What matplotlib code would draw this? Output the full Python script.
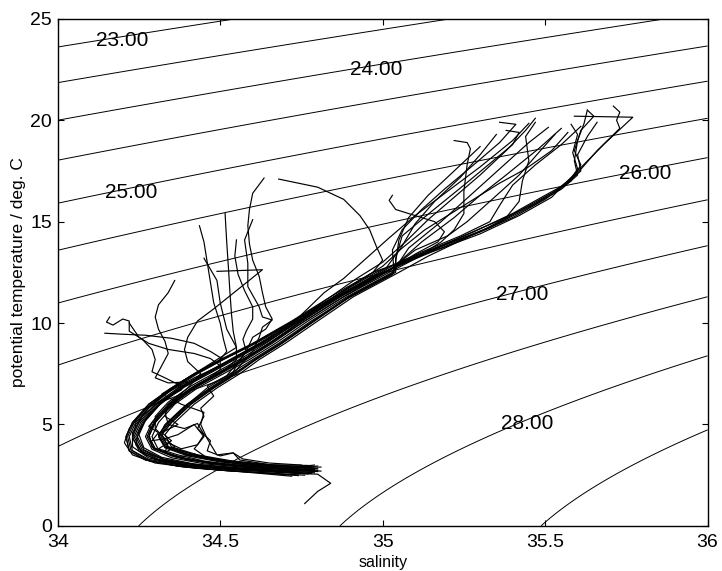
import numpy as np
import matplotlib
matplotlib.use("Agg")
import matplotlib.pyplot as plt

# -----------------------------
# Data: density levels and T-S casts (salinity, potential temperature)
# -----------------------------
sigma_levels = [22.5, 23.0, 23.5, 24.0, 24.5, 25.0, 25.5, 26.0, 26.5, 27.0, 27.5, 28.0, 28.5]
label_levels = [23.0, 24.0, 25.0, 26.0, 27.0, 28.0]

x_ticks = [34, 34.5, 35, 35.5, 36]
x_tick_labels = ["34", "34.5", "35", "35.5", "36"]
y_ticks = [0, 5, 10, 15, 20, 25]

# warm, salty surface casts
cast_a1 = [(35.63, 20.5), (35.62, 19.85), (35.6, 19.0), (35.59, 18.0), (35.6, 17.3), (35.55, 16.6), (35.45, 15.7),
           (35.33, 14.7), (35.18, 13.7), (34.97, 12.5), (34.84, 11.3), (34.72, 10.1), (34.6, 9.0), (34.5, 8.2),
           (34.42, 7.5), (34.35, 6.8), (34.28, 6.0), (34.23, 5.1), (34.21, 4.4), (34.22, 3.7), (34.27, 3.25),
           (34.37, 2.95), (34.5, 2.75), (34.65, 2.6), (34.76, 2.5)]
cast_a2 = [(35.59, 20.2), (35.77, 20.15), (35.68, 18.8), (35.6, 17.5), (35.55, 16.7), (35.52, 16.2), (35.42, 15.3),
           (35.3, 14.4), (35.15, 13.5), (35.0, 12.5), (34.86, 11.3), (34.74, 10.1), (34.63, 9.0), (34.54, 8.2),
           (34.46, 7.5), (34.38, 6.8), (34.31, 6.0), (34.26, 5.1), (34.24, 4.4), (34.26, 3.75), (34.32, 3.3),
           (34.42, 3.0), (34.55, 2.82), (34.7, 2.7), (34.79, 2.62)]
cast_a3 = [(35.63, 20.5), (35.65, 20.2), (35.61, 19.5), (35.59, 18.5), (35.61, 17.8), (35.58, 17.0), (35.5, 16.3),
           (35.4, 15.4), (35.28, 14.5), (35.14, 13.5), (35.02, 12.5), (34.88, 11.3), (34.76, 10.1), (34.66, 9.0),
           (34.58, 8.2), (34.5, 7.5), (34.42, 6.8), (34.35, 6.0), (34.3, 5.1), (34.28, 4.4), (34.3, 3.8),
           (34.37, 3.4), (34.47, 3.1), (34.6, 2.92), (34.72, 2.8), (34.8, 2.75)]
cast_a4 = [(35.71, 20.7), (35.73, 20.4), (35.72, 20.0), (35.73, 19.6), (35.66, 18.5), (35.6, 17.4), (35.53, 16.5),
           (35.44, 15.7), (35.34, 14.8), (35.2, 13.9), (35.05, 12.9), (34.92, 11.8), (34.8, 10.8), (34.68, 9.7),
           (34.57, 8.7), (34.47, 7.9), (34.39, 7.2), (34.32, 6.4), (34.26, 5.6), (34.22, 4.8), (34.205, 4.1),
           (34.23, 3.5), (34.3, 3.1), (34.42, 2.85), (34.58, 2.65), (34.72, 2.45)]
cast_a5 = [(35.58, 19.8), (35.6, 19.3), (35.585, 18.4), (35.6, 17.6), (35.57, 16.9), (35.5, 16.1), (35.4, 15.2),
           (35.27, 14.3), (35.14, 13.3), (35.05, 12.5), (34.91, 11.3), (34.8, 10.1), (34.7, 9.0), (34.62, 8.2),
           (34.56, 7.5), (34.49, 6.8), (34.42, 6.0), (34.36, 5.1), (34.33, 4.5), (34.35, 3.9), (34.43, 3.5),
           (34.53, 3.22), (34.65, 3.02), (34.77, 2.98)]
cast_a6 = [(35.66, 19.9), (35.63, 19.2), (35.6, 18.3), (35.61, 17.5), (35.56, 16.8), (35.47, 15.9), (35.35, 15.0),
           (35.22, 14.1), (35.1, 13.3), (35.01, 12.5), (34.87, 11.3), (34.75, 10.1), (34.65, 9.0), (34.57, 8.2),
           (34.49, 7.5), (34.41, 6.8), (34.34, 6.0), (34.29, 5.1), (34.27, 4.4), (34.29, 3.78), (34.35, 3.36),
           (34.45, 3.06), (34.58, 2.88), (34.71, 2.76), (34.79, 2.72)]

# fan of casts from the salty surface down to the central water
cast_b1 = [(35.47, 20.1), (35.44, 19.5), (35.38, 18.5), (35.3, 17.3), (35.22, 16.2), (35.14, 15.1), (35.07, 14.0),
           (35.0, 13.0), (34.92, 12.2), (34.84, 11.3), (34.73, 10.1), (34.62, 9.0), (34.53, 8.2), (34.45, 7.5),
           (34.37, 6.8), (34.3, 6.0), (34.25, 5.1), (34.23, 4.4), (34.25, 3.7), (34.3, 3.28), (34.4, 2.98),
           (34.53, 2.8), (34.68, 2.68), (34.77, 2.58)]
cast_b2 = [(35.38, 19.5), (35.42, 19.4), (35.4, 18.8), (35.34, 18.0), (35.25, 16.8), (35.15, 15.5), (35.06, 14.3),
           (35.04, 13.2), (35.04, 12.5), (34.9, 11.3), (34.79, 10.1), (34.69, 9.0), (34.61, 8.2), (34.55, 7.5),
           (34.48, 6.8), (34.41, 6.0), (34.35, 5.1), (34.32, 4.5), (34.34, 3.9), (34.42, 3.5), (34.52, 3.2),
           (34.64, 3.0), (34.75, 2.9), (34.8, 2.95)]
cast_b3 = [(35.51, 19.65), (35.45, 18.9), (35.36, 17.6), (35.27, 16.3), (35.18, 15.0), (35.08, 13.7), (35.03, 12.5),
           (34.89, 11.3), (34.77, 10.1), (34.67, 9.0), (34.59, 8.2), (34.51, 7.5), (34.43, 6.8), (34.36, 6.0),
           (34.31, 5.1), (34.29, 4.4), (34.31, 3.75), (34.38, 3.35), (34.49, 3.05), (34.62, 2.88), (34.74, 2.78),
           (34.81, 2.7)]
cast_b4 = [(35.55, 19.6), (35.48, 18.6), (35.38, 17.3), (35.3, 16.3), (35.22, 15.2), (35.12, 14.0), (35.05, 13.0),
           (35.03, 12.4), (34.89, 11.2), (34.78, 10.0), (34.68, 8.9), (34.6, 8.1), (34.53, 7.4), (34.46, 6.7),
           (34.39, 5.9), (34.33, 5.0), (34.31, 4.4), (34.33, 3.85), (34.4, 3.45), (34.5, 3.15), (34.62, 2.97),
           (34.73, 2.88), (34.79, 2.85)]
cast_b5 = [(35.61, 19.7), (35.55, 18.8), (35.47, 17.8), (35.4, 16.8), (35.36, 15.8), (35.33, 15.0), (35.24, 14.3),
           (35.12, 13.5), (34.98, 12.5), (34.85, 11.3), (34.725, 10.1), (34.605, 9.0), (34.505, 8.2), (34.425, 7.5),
           (34.355, 6.8), (34.285, 6.0), (34.235, 5.1), (34.215, 4.4), (34.225, 3.75), (34.28, 3.28),
           (34.38, 2.98), (34.52, 2.78), (34.67, 2.64), (34.78, 2.58)]
cast_b6 = [(35.22, 19.0), (35.26, 18.9), (35.27, 18.6), (35.26, 17.8), (35.25, 16.5), (35.25, 15.4), (35.22, 14.6),
           (35.18, 14.0), (35.1, 13.2), (35.005, 12.5), (34.865, 11.3), (34.745, 10.1), (34.635, 9.0),
           (34.545, 8.2), (34.465, 7.5), (34.385, 6.8), (34.315, 6.0), (34.265, 5.1), (34.245, 4.4),
           (34.265, 3.75), (34.325, 3.3), (34.43, 3.0), (34.56, 2.84), (34.71, 2.72), (34.8, 2.68)]
cast_b7 = [(35.03, 16.3), (35.02, 16.05), (35.04, 15.6), (35.1, 15.3), (35.16, 15.0), (35.19, 14.5), (35.17, 14.0),
           (35.1, 13.4), (35.02, 12.6), (34.88, 11.4), (34.76, 10.2), (34.66, 9.1), (34.58, 8.3), (34.5, 7.6),
           (34.43, 6.9), (34.37, 6.2), (34.33, 5.6), (34.34, 5.0), (34.39, 4.8), (34.43, 5.05), (34.45, 4.5),
           (34.43, 4.0), (34.38, 3.8), (34.34, 4.1), (34.33, 3.6), (34.4, 3.25), (34.55, 2.98), (34.7, 2.8),
           (34.79, 2.78)]
cast_b8 = [(34.68, 17.1), (34.8, 16.7), (34.88, 16.1), (34.93, 15.3), (34.96, 14.6), (34.98, 13.8), (35.0, 13.1),
           (34.97, 12.5), (34.86, 11.4), (34.75, 10.2), (34.65, 9.1), (34.57, 8.3), (34.49, 7.6), (34.41, 6.9),
           (34.34, 6.1), (34.3, 5.4), (34.3, 4.8), (34.33, 4.3), (34.37, 4.5), (34.42, 5.0), (34.45, 4.4),
           (34.42, 3.8), (34.46, 3.35), (34.55, 3.05), (34.68, 2.85), (34.78, 2.78)]
cast_b10 = [(35.45, 19.85), (35.4, 19.0), (35.3, 17.7), (35.2, 16.5), (35.1, 15.3), (35.02, 14.2), (34.95, 13.2),
            (34.88, 12.2), (34.82, 11.5), (34.73, 10.1), (34.61, 9.0), (34.51, 8.2), (34.43, 7.5), (34.36, 6.8),
            (34.29, 6.0), (34.24, 5.1), (34.22, 4.4), (34.23, 3.7), (34.28, 3.22), (34.38, 2.92), (34.52, 2.72),
            (34.66, 2.58), (34.74, 2.5)]
cast_b11 = [(35.53, 19.3), (35.48, 18.4), (35.42, 17.3), (35.33, 16.0), (35.26, 15.0), (35.2, 14.3), (35.1, 13.6),
            (35.02, 12.6), (34.88, 11.3), (34.76, 10.1), (34.655, 9.0), (34.575, 8.2), (34.495, 7.5), (34.415, 6.8),
            (34.345, 6.0), (34.295, 5.1), (34.275, 4.4), (34.295, 3.8), (34.365, 3.38), (34.465, 3.08),
            (34.6, 2.9), (34.73, 2.82), (34.79, 2.8)]
cast_b12 = [(35.47, 19.9), (35.44, 19.2), (35.45, 18.0), (35.43, 17.0), (35.42, 16.0), (35.38, 15.2), (35.3, 14.5),
            (35.18, 13.8), (35.05, 13.0), (34.995, 12.5), (34.855, 11.3), (34.735, 10.1), (34.625, 9.0),
            (34.535, 8.2), (34.455, 7.5), (34.375, 6.8), (34.305, 6.0), (34.255, 5.1), (34.235, 4.4),
            (34.255, 3.72), (34.31, 3.28), (34.41, 2.98), (34.54, 2.8), (34.69, 2.66), (34.77, 2.56)]
cast_b13 = [(35.36, 19.9), (35.41, 19.8), (35.36, 18.9), (35.28, 17.8), (35.19, 16.6), (35.12, 15.6), (35.06, 14.6),
            (35.03, 13.6), (35.035, 12.5), (34.895, 11.3), (34.785, 10.1), (34.685, 9.0), (34.605, 8.2),
            (34.545, 7.5), (34.475, 6.8), (34.405, 6.0), (34.345, 5.1), (34.315, 4.5), (34.335, 3.9),
            (34.41, 3.48), (34.51, 3.18), (34.63, 2.98), (34.74, 2.88), (34.81, 2.9)]
cast_b14 = [(35.57, 19.4), (35.52, 18.5), (35.44, 17.6), (35.36, 16.9), (35.27, 16.0), (35.2, 15.3), (35.13, 14.6),
            (35.06, 13.7), (35.0, 12.8), (34.87, 11.5), (34.745, 10.2), (34.635, 9.1), (34.545, 8.3), (34.465, 7.6),
            (34.39, 6.9), (34.32, 6.1), (34.27, 5.2), (34.25, 4.5), (34.265, 3.85), (34.32, 3.38), (34.42, 3.05),
            (34.55, 2.86), (34.69, 2.74), (34.76, 2.7)]
cast_d1 = [(35.3, 18.7), (35.22, 17.5), (35.14, 16.3), (35.08, 15.2), (35.05, 14.1), (35.04, 13.0), (35.03, 12.4),
           (34.9, 11.3), (34.78, 10.1), (34.68, 9.0), (34.6, 8.2), (34.52, 7.4), (34.46, 6.9), (34.48, 6.4),
           (34.44, 5.8), (34.45, 5.4), (34.43, 4.8), (34.47, 4.2), (34.46, 3.7), (34.5, 3.45), (34.54, 3.6),
           (34.57, 3.3), (34.65, 3.1), (34.75, 3.0)]
cast_d2 = [(35.35, 19.3), (35.3, 18.3), (35.24, 17.2), (35.16, 16.0), (35.1, 14.9), (35.06, 13.8), (35.01, 12.7),
           (34.88, 11.5), (34.77, 10.3), (34.67, 9.2), (34.58, 8.3), (34.5, 7.6), (34.42, 6.9), (34.36, 6.2),
           (34.31, 5.5), (34.28, 4.9), (34.31, 4.6), (34.29, 4.2), (34.33, 4.3), (34.36, 3.9), (34.33, 3.6),
           (34.38, 3.4), (34.42, 3.55), (34.47, 3.3), (34.58, 3.05), (34.7, 2.9), (34.8, 2.82)]

# fresher casts on the left
cast_c1 = [(34.635, 17.15), (34.6, 16.4), (34.59, 15.6), (34.585, 14.8), (34.59, 13.9), (34.6, 13.1), (34.62, 12.3),
           (34.63, 11.5), (34.64, 10.8), (34.66, 10.2), (34.64, 9.7), (34.6, 9.3), (34.58, 8.6), (34.55, 7.9),
           (34.53, 7.3), (34.48, 6.8), (34.41, 6.0), (34.35, 5.1), (34.32, 4.5), (34.34, 3.9), (34.42, 3.5),
           (34.52, 3.2), (34.64, 3.0), (34.75, 2.9)]
cast_c12 = [(34.6, 15.1), (34.575, 14.1), (34.585, 12.95), (34.585, 11.8), (34.62, 10.8), (34.63, 10.3),
            (34.66, 10.15), (34.63, 9.8), (34.62, 9.3), (34.6, 8.6), (34.545, 7.6), (34.47, 6.8), (34.4, 6.0),
            (34.34, 5.1), (34.31, 4.5), (34.33, 3.9), (34.4, 3.5), (34.5, 3.2), (34.62, 3.0), (34.74, 2.92),
            (34.79, 3.0)]
cast_c2 = [(34.515, 15.4), (34.52, 14.0), (34.525, 12.8), (34.53, 11.5), (34.535, 10.4), (34.54, 9.6), (34.55, 8.8),
           (34.55, 8.2), (34.5, 7.5), (34.42, 6.8), (34.35, 6.0), (34.3, 5.1), (34.28, 4.4), (34.3, 3.8),
           (34.37, 3.4), (34.47, 3.1), (34.6, 2.92), (34.72, 2.8), (34.78, 2.7)]
cast_c3 = [(34.436, 14.8), (34.45, 14.0), (34.46, 13.0), (34.47, 12.0), (34.48, 11.0), (34.5, 10.0), (34.51, 9.2),
           (34.52, 8.6), (34.5, 8.2), (34.42, 7.5), (34.35, 6.8), (34.28, 6.0), (34.23, 5.1), (34.21, 4.4),
           (34.22, 3.7), (34.27, 3.25), (34.37, 2.95), (34.5, 2.75), (34.65, 2.6), (34.74, 2.48)]
cast_c4 = [(34.55, 14.1), (34.545, 13.3), (34.555, 12.4), (34.575, 11.6), (34.6, 10.8), (34.6, 10.2), (34.58, 9.6),
           (34.57, 9.2), (34.58, 8.6), (34.55, 8.0), (34.52, 7.4), (34.46, 6.8), (34.4, 6.0), (34.34, 5.1),
           (34.31, 4.5), (34.33, 3.9), (34.4, 3.5), (34.5, 3.2), (34.62, 3.0), (34.72, 2.9)]
cast_c5 = [(34.49, 12.55), (34.63, 12.63), (34.55, 11.6), (34.48, 10.7), (34.43, 10.1), (34.4, 9.3), (34.39, 8.7),
           (34.4, 8.1), (34.44, 7.5), (34.4, 6.8), (34.34, 6.0), (34.33, 5.4), (34.37, 5.0), (34.32, 4.6),
           (34.35, 4.2), (34.31, 3.8), (34.37, 3.5), (34.45, 3.2), (34.57, 2.95), (34.71, 2.8), (34.77, 2.72)]
cast_c6 = [(34.36, 12.1), (34.34, 11.5), (34.31, 10.9), (34.3, 10.3), (34.31, 9.7), (34.33, 9.1), (34.34, 8.5),
           (34.32, 7.9), (34.3, 7.3), (34.34, 7.05), (34.4, 7.1), (34.38, 6.7), (34.31, 6.1), (34.26, 5.4),
           (34.23, 4.6), (34.23, 3.9), (34.28, 3.35), (34.38, 3.0), (34.52, 2.82), (34.66, 2.7), (34.76, 2.6)]
cast_c7 = [(34.16, 10.3), (34.15, 10.05), (34.17, 9.9), (34.2, 10.2), (34.22, 10.1), (34.22, 9.6), (34.26, 9.2),
           (34.29, 8.7), (34.3, 8.2), (34.29, 7.6), (34.33, 7.3), (34.38, 6.9), (34.33, 6.2), (34.28, 5.5),
           (34.25, 4.7), (34.24, 4.0), (34.27, 3.5), (34.33, 3.15), (34.45, 2.9), (34.6, 2.75), (34.74, 2.65)]
cast_c8 = [(34.145, 9.5), (34.2, 9.45), (34.27, 9.4), (34.35, 9.25), (34.42, 9.0), (34.47, 8.6), (34.5, 8.3),
           (34.5, 7.7), (34.44, 7.0), (34.37, 6.2), (34.31, 5.4), (34.28, 4.6), (34.29, 3.9), (34.35, 3.45),
           (34.46, 3.12), (34.6, 2.92), (34.73, 2.82)]
cast_c9 = [(34.22, 10.0), (34.25, 9.3), (34.28, 9.0), (34.34, 8.7), (34.42, 8.5), (34.47, 8.25), (34.5, 7.9),
           (34.42, 7.3), (34.34, 6.6), (34.28, 5.8), (34.24, 5.0), (34.23, 4.3), (34.26, 3.65), (34.34, 3.2),
           (34.47, 2.95), (34.62, 2.8), (34.72, 2.6), (34.8, 2.55), (34.84, 2.1), (34.8, 1.7), (34.76, 1.1)]
cast_c11 = [(34.45, 13.2), (34.49, 12.1), (34.5, 11.0), (34.52, 9.7), (34.55, 8.8), (34.48, 8.1), (34.4, 7.3),
            (34.32, 6.5), (34.38, 6.0), (34.45, 5.6), (34.44, 5.0), (34.46, 4.3), (34.49, 3.5), (34.54, 3.6),
            (34.56, 3.25), (34.66, 3.0), (34.78, 2.9)]

casts = [cast_a1, cast_a2, cast_a3, cast_a4, cast_a5, cast_a6,
         cast_b1, cast_b2, cast_b3, cast_b4, cast_b5, cast_b6, cast_b7, cast_b8, cast_b10, cast_b11, cast_b12,
         cast_b13, cast_b14, cast_d1, cast_d2,
         cast_c1, cast_c12, cast_c2, cast_c3, cast_c4, cast_c5, cast_c6, cast_c7, cast_c8, cast_c9, cast_c11]


def sigma_theta(s, t):
    """Surface density anomaly (UNESCO 1981 equation of state, p = 0)"""
    rho_w = (999.842594 + 6.793952e-2 * t - 9.095290e-3 * t ** 2 + 1.001685e-4 * t ** 3
             - 1.120083e-6 * t ** 4 + 6.536332e-9 * t ** 5)
    a = 8.24493e-1 - 4.0899e-3 * t + 7.6438e-5 * t ** 2 - 8.2467e-7 * t ** 3 + 5.3875e-9 * t ** 4
    b = -5.72466e-3 + 1.0227e-4 * t - 1.6546e-6 * t ** 2
    c = 4.8314e-4
    return rho_w + a * s + b * s ** 1.5 + c * s ** 2 - 1000.0


def plot():
    plt.rcParams['font.family'] = ['Liberation Sans', 'DejaVu Sans']
    fig = plt.figure(figsize=(7.22, 5.71), dpi=100)
    ax = fig.add_axes([0.080, 0.079, 0.900, 0.888])

    # density background
    s_grid, t_grid = np.meshgrid(np.linspace(34, 36, 300), np.linspace(0, 25, 300))
    sig = sigma_theta(s_grid, t_grid)
    ax.contour(s_grid, t_grid, sig, levels=sigma_levels, colors='black', linewidths=0.7)

    # labels on whole-number isopycnals (text sits on the line, unrotated)
    cs_lab = ax.contour(s_grid, t_grid, sig, levels=label_levels, colors='black', linewidths=0)
    label_spots = [(34.2, 23.9), (34.98, 22.6), (34.23, 16.3), (35.81, 17.5), (35.43, 11.5), (35.45, 5.1)]
    labels = ax.clabel(cs_lab, inline=False, fmt='%.2f', fontsize=15, manual=label_spots, colors='black')
    for lab in labels:
        lab.set_rotation(0)
        lx, ly = lab.get_position()
        lab.set_position((lx, ly - 0.2))  # text sits a touch below its line

    # T-S casts
    for cast in casts:
        s_vals = [p[0] for p in cast]
        t_vals = [p[1] for p in cast]
        ax.plot(s_vals, t_vals, color='black', linewidth=0.85)

    ax.set_xlim(34, 36)
    ax.set_ylim(0, 25)
    ax.set_xticks(x_ticks)
    ax.set_xticklabels(x_tick_labels)
    ax.set_yticks(y_ticks)
    ax.tick_params(direction='in', length=4, width=0.8, labelsize=14, top=True, right=True)
    ax.tick_params(axis='x', pad=6)
    ax.tick_params(axis='y', pad=4)
    ax.set_xlabel("salinity", fontsize=11.5, labelpad=3)
    ax.set_ylabel("potential temperature / deg. C", fontsize=12.5, labelpad=3)
    for sp in ax.spines.values():
        sp.set_linewidth(1.0)

    fig.savefig("out.png", dpi=100)


if __name__ == "__main__":
    plot()
